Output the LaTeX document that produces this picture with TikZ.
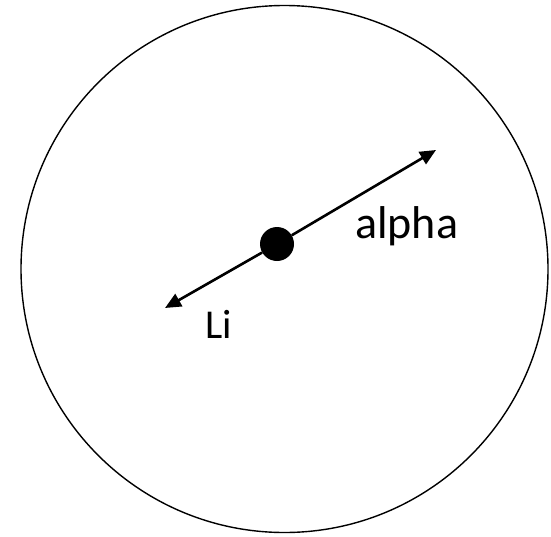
\documentclass[tikz,border=0pt]{standalone}
\usepackage{fontspec}
\setmainfont{Carlito}
\usetikzlibrary{arrows.meta,positioning}

\begin{document}
\begin{tikzpicture}[x=1pt,y=-1pt]
    \useasboundingbox (0,0) rectangle (551,536);
    % nucleus boundary
    \node[draw, circle, line width=1.4pt, minimum size=527pt, inner sep=0pt] (shell) at (284.5,269) {};
    \node[fill, circle, minimum size=34pt, inner sep=0pt] (dot) at (277,244) {};
    \coordinate (alphaend) at (436,150);
    \coordinate (liend) at (165,308);
    \draw[line width=2.6pt, -{Triangle[length=16pt,width=14pt]}] (dot) -- (alphaend);
    \draw[line width=2.6pt, -{Triangle[length=16pt,width=14pt]}] (dot) -- (liend);
    \node[anchor=base west, inner sep=0pt, font=\fontsize{46}{54}\selectfont] (alpha) at (355,238) {alpha};
    \node[anchor=base west, inner sep=0pt, font=\fontsize{41}{48}\selectfont] (li) at (205,338) {Li};
  \end{tikzpicture}
\end{document}
